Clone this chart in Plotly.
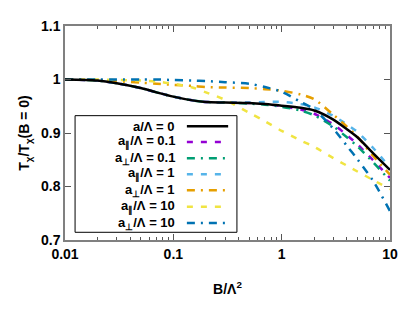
import plotly.graph_objects as go

B = [0.01, 0.02, 0.03, 0.05, 0.07, 0.1, 0.15, 0.2, 0.3, 0.5, 0.7, 1, 1.5, 2, 3, 4, 5, 7, 10]

a0      = [1.000, 0.998, 0.993, 0.984, 0.976, 0.968, 0.961, 0.958, 0.957, 0.956, 0.954, 0.951, 0.947, 0.942, 0.925, 0.907, 0.892, 0.862, 0.831]
apar01  = [1.000, 0.998, 0.993, 0.984, 0.976, 0.968, 0.961, 0.958, 0.957, 0.956, 0.954, 0.950, 0.944, 0.936, 0.916, 0.896, 0.879, 0.849, 0.816]
aperp01 = [1.000, 0.998, 0.993, 0.984, 0.976, 0.968, 0.961, 0.958, 0.957, 0.955, 0.953, 0.949, 0.942, 0.933, 0.912, 0.892, 0.875, 0.845, 0.811]
apar1   = [1.000, 0.998, 0.993, 0.984, 0.976, 0.968, 0.961, 0.958, 0.957, 0.957, 0.958, 0.958, 0.954, 0.948, 0.932, 0.916, 0.902, 0.872, 0.835]
aperp1  = [1.000, 0.999, 0.997, 0.994, 0.992, 0.990, 0.988, 0.986, 0.985, 0.984, 0.982, 0.979, 0.972, 0.963, 0.934, 0.912, 0.893, 0.857, 0.822]
apar10  = [1.000, 1.000, 0.999, 0.998, 0.996, 0.992, 0.985, 0.976, 0.962, 0.938, 0.922, 0.904, 0.886, 0.874, 0.853, 0.839, 0.828, 0.812, 0.795]
aperp10 = [1.000, 1.000, 1.000, 1.000, 1.000, 0.999, 0.998, 0.997, 0.995, 0.992, 0.986, 0.977, 0.958, 0.944, 0.908, 0.876, 0.851, 0.810, 0.754]

labels = ["a/Λ = 0", "a<sub>∥</sub>/Λ = 0.1", "a<sub>⊥</sub>/Λ = 0.1", "a<sub>∥</sub>/Λ = 1",
          "a<sub>⊥</sub>/Λ = 1", "a<sub>∥</sub>/Λ = 10", "a<sub>⊥</sub>/Λ = 10"]
series = [a0, apar01, aperp01, apar1, aperp1, apar10, aperp10]
colors = ["#000000", "#9400d3", "#009e73", "#56b4e9", "#e69f00", "#f0e442", "#0072b2"]
dashes = ["solid", "6px,8px", "8px,6px,2px,6px", "6px,8px", "8px,6px,2px,6px", "6px,8px", "8px,6px,2px,6px"]

x_ticks = [0.01, 0.1, 1, 10]
x_ticklabels = ["0.01", "0.1", "1", "10"]
y_ticks = [0.7, 0.8, 0.9, 1.0, 1.1]
y_ticklabels = ["0.7", "0.8", "0.9", "1", "1.1"]

FONT = "Liberation Sans"
fig = go.Figure()
order = [1, 2, 3, 4, 5, 6, 0]
for i in order:
    fig.add_trace(go.Scatter(x=B, y=series[i], mode="lines", name=labels[i],
                             line=dict(color=colors[i], width=2.5, dash=dashes[i], shape="spline", smoothing=0.8),
                             showlegend=False))

# custom legend (text left, sample right) in paper coordinates
row_y = [0.532, 0.458, 0.382, 0.307, 0.232, 0.155, 0.079]
shapes = [dict(type="rect", xref="paper", yref="paper", x0=0.031, x1=0.529, y0=0.036, y1=0.581,
               line=dict(color="black", width=1), fillcolor="white", layer="below")]
annotations = []
for i, yy in enumerate(row_y):
    annotations.append(dict(xref="paper", yref="paper", x=0.345, y=yy, xanchor="right", yanchor="middle",
                            text="<b>" + labels[i] + "</b>", showarrow=False,
                            font=dict(family=FONT, size=13, color="black")))
    shapes.append(dict(type="line", xref="paper", yref="paper", x0=0.375, x1=0.502, y0=yy, y1=yy,
                       line=dict(color=colors[i], width=2.5, dash=dashes[i])))

fig.update_layout(
    width=407, height=304,
    margin=dict(l=57, r=25, t=10, b=72),
    paper_bgcolor="white", plot_bgcolor="white",
    font=dict(family=FONT, size=14, color="black"),
    shapes=shapes, annotations=annotations,
    showlegend=False,
)
fig.update_xaxes(type="log", range=[-2, 1], tickvals=x_ticks, ticktext=["<b>%s</b>" % t for t in x_ticklabels],
                 ticks="inside", ticklen=6, tickcolor="#555", showline=True, linecolor="#808080", linewidth=1.5,
                 mirror="ticks", showgrid=False, zeroline=False,
                 minor=dict(ticks="inside", ticklen=3, tickcolor="#555", dtick="D1", showgrid=False),
                 title=dict(text="<b>B/Λ<sup>2</sup></b>", font=dict(size=14), standoff=24),
                 tickfont=dict(size=14))
fig.update_yaxes(range=[0.7, 1.1], tickvals=y_ticks, ticktext=["<b>%s</b>" % t for t in y_ticklabels],
                 ticks="inside", ticklen=6, tickcolor="#555", showline=True, linecolor="#808080", linewidth=1.5,
                 mirror="ticks", showgrid=False, zeroline=False,
                 title=dict(text="<b>T<sub>χ</sub>/T<sub>χ</sub>(B = 0)</b>", font=dict(size=14), standoff=8),
                 tickfont=dict(size=14))

fig.write_html("out.html")
